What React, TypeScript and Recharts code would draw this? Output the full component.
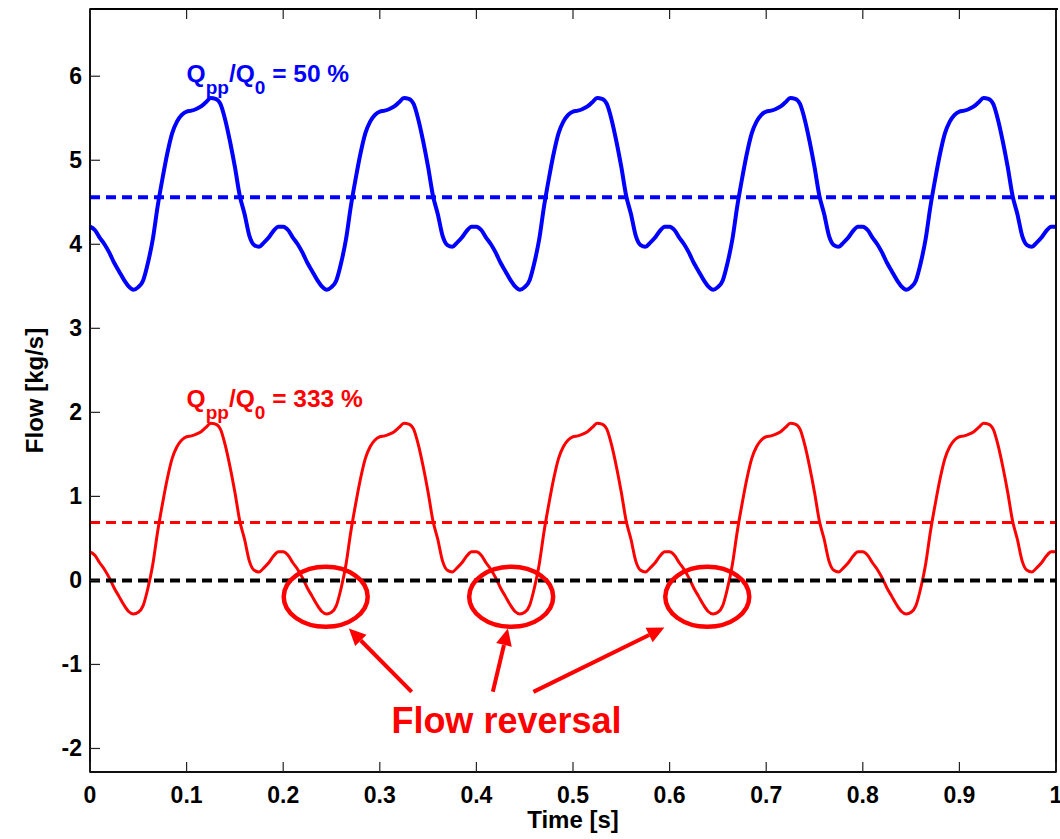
import { LineChart, Line, XAxis, YAxis, ReferenceLine, ReferenceDot, ReferenceArea } from "recharts"

const FONT = "'Liberation Sans', Arial, Helvetica, sans-serif"
const BLUE = "#0000ff"
const RED = "#ff0000"

// sample spacing of the measured flow traces [s]
const timeStep = 0.005

// Q_pp/Q_0 = 50 %  (two lines per 0.2 s pump period)
const blueFlow = [
    4.21, 4.17, 4.08, 4.00, 3.90, 3.78, 3.68, 3.58, 3.50, 3.46, 3.49, 3.57, 3.78, 4.06, 4.45, 4.78, 5.08, 5.32, 5.46, 5.54,
    5.58, 5.59, 5.61, 5.64, 5.69, 5.74, 5.73, 5.67, 5.48, 5.22, 4.92, 4.58, 4.36, 4.10, 3.99, 3.97, 4.02, 4.08, 4.16, 4.21,
    4.21, 4.17, 4.08, 4.00, 3.90, 3.78, 3.68, 3.58, 3.50, 3.46, 3.49, 3.57, 3.78, 4.06, 4.45, 4.78, 5.08, 5.32, 5.46, 5.54,
    5.58, 5.59, 5.61, 5.64, 5.69, 5.74, 5.73, 5.67, 5.48, 5.22, 4.92, 4.58, 4.36, 4.10, 3.99, 3.97, 4.02, 4.08, 4.16, 4.21,
    4.21, 4.17, 4.08, 4.00, 3.90, 3.78, 3.68, 3.58, 3.50, 3.46, 3.49, 3.57, 3.78, 4.06, 4.45, 4.78, 5.08, 5.32, 5.46, 5.54,
    5.58, 5.59, 5.61, 5.64, 5.69, 5.74, 5.73, 5.67, 5.48, 5.22, 4.92, 4.58, 4.36, 4.10, 3.99, 3.97, 4.02, 4.08, 4.16, 4.21,
    4.21, 4.17, 4.08, 4.00, 3.90, 3.78, 3.68, 3.58, 3.50, 3.46, 3.49, 3.57, 3.78, 4.06, 4.45, 4.78, 5.08, 5.32, 5.46, 5.54,
    5.58, 5.59, 5.61, 5.64, 5.69, 5.74, 5.73, 5.67, 5.48, 5.22, 4.92, 4.58, 4.36, 4.10, 3.99, 3.97, 4.02, 4.08, 4.16, 4.21,
    4.21, 4.17, 4.08, 4.00, 3.90, 3.78, 3.68, 3.58, 3.50, 3.46, 3.49, 3.57, 3.78, 4.06, 4.45, 4.78, 5.08, 5.32, 5.46, 5.54,
    5.58, 5.59, 5.61, 5.64, 5.69, 5.74, 5.73, 5.67, 5.48, 5.22, 4.92, 4.58, 4.36, 4.10, 3.99, 3.97, 4.02, 4.08, 4.16, 4.21,
    4.21,
]

// Q_pp/Q_0 = 333 %
const redFlow = [
    0.34, 0.30, 0.21, 0.13, 0.03, -0.09, -0.19, -0.29, -0.37, -0.40, -0.38, -0.30, -0.09, 0.19, 0.58, 0.91, 1.21, 1.45, 1.59, 1.67,
    1.71, 1.72, 1.74, 1.77, 1.82, 1.87, 1.86, 1.80, 1.61, 1.35, 1.05, 0.71, 0.49, 0.23, 0.12, 0.10, 0.15, 0.21, 0.29, 0.34,
    0.34, 0.30, 0.21, 0.13, 0.03, -0.09, -0.19, -0.29, -0.37, -0.40, -0.38, -0.30, -0.09, 0.19, 0.58, 0.91, 1.21, 1.45, 1.59, 1.67,
    1.71, 1.72, 1.74, 1.77, 1.82, 1.87, 1.86, 1.80, 1.61, 1.35, 1.05, 0.71, 0.49, 0.23, 0.12, 0.10, 0.15, 0.21, 0.29, 0.34,
    0.34, 0.30, 0.21, 0.13, 0.03, -0.09, -0.19, -0.29, -0.37, -0.40, -0.38, -0.30, -0.09, 0.19, 0.58, 0.91, 1.21, 1.45, 1.59, 1.67,
    1.71, 1.72, 1.74, 1.77, 1.82, 1.87, 1.86, 1.80, 1.61, 1.35, 1.05, 0.71, 0.49, 0.23, 0.12, 0.10, 0.15, 0.21, 0.29, 0.34,
    0.34, 0.30, 0.21, 0.13, 0.03, -0.09, -0.19, -0.29, -0.37, -0.40, -0.38, -0.30, -0.09, 0.19, 0.58, 0.91, 1.21, 1.45, 1.59, 1.67,
    1.71, 1.72, 1.74, 1.77, 1.82, 1.87, 1.86, 1.80, 1.61, 1.35, 1.05, 0.71, 0.49, 0.23, 0.12, 0.10, 0.15, 0.21, 0.29, 0.34,
    0.34, 0.30, 0.21, 0.13, 0.03, -0.09, -0.19, -0.29, -0.37, -0.40, -0.38, -0.30, -0.09, 0.19, 0.58, 0.91, 1.21, 1.45, 1.59, 1.67,
    1.71, 1.72, 1.74, 1.77, 1.82, 1.87, 1.86, 1.80, 1.61, 1.35, 1.05, 0.71, 0.49, 0.23, 0.12, 0.10, 0.15, 0.21, 0.29, 0.34,
    0.34,
]

const blueMean = 4.56
const redMean = 0.69

const xDomain = [0, 1]
const yDomain = [-2.28, 6.8]
const xTicks = [0, 0.1, 0.2, 0.3, 0.4, 0.5, 0.6, 0.7, 0.8, 0.9, 1]
const yTicks = [-2, -1, 0, 1, 2, 3, 4, 5, 6]

// annotation anchors, in data units
const reversalCircles = [
    { t: 0.244, v: -0.195 },
    { t: 0.436, v: -0.195 },
    { t: 0.639, v: -0.195 },
]
const reversalArrows = [
    { from: { t: 0.333, v: -1.326 }, to: { t: 0.268, v: -0.571 } },
    { from: { t: 0.417, v: -1.326 }, to: { t: 0.4326, v: -0.571 } },
    { from: { t: 0.459, v: -1.326 }, to: { t: 0.5946, v: -0.56 } },
]

const data = blueFlow.map((b, i) => ({
    t: Math.round(i * timeStep * 1000) / 1000,
    blue: b,
    red: redFlow[i],
}))

const BottomTick = (props: any) => {
    const { x, y, payload } = props
    return (
        <g>
            <line x1={x} y1={y} x2={x} y2={y - 10} stroke="#222" strokeWidth={1.2} />
            <text x={x} y={y + 31} textAnchor="middle" fontSize={23} fontWeight="bold" fontFamily={FONT} fill="#000">
                {payload.value}
            </text>
        </g>
    )
}

const LeftTick = (props: any) => {
    const { x, y, payload } = props
    return (
        <g>
            <line x1={x} y1={y} x2={x + 10} y2={y} stroke="#222" strokeWidth={1.2} />
            <text x={x - 8} y={y + 8} textAnchor="end" fontSize={23} fontWeight="bold" fontFamily={FONT} fill="#000">
                {payload.value}
            </text>
        </g>
    )
}

const RightTick = (props: any) => {
    const { x, y } = props
    return <line x1={x} y1={y} x2={x - 10} y2={y} stroke="#222" strokeWidth={1.2} />
}

const RatioLabel = ({ cx, cy, color, value }: any) => (
    <text x={cx} y={cy} fontSize={24.5} fontWeight="bold" fontFamily={FONT} fill={color}>
        <tspan>Q</tspan>
        <tspan dy={12} fontSize={19}>pp</tspan>
        <tspan dy={-12}>/Q</tspan>
        <tspan dy={12} fontSize={19}>0</tspan>
        <tspan dy={-12}>{` = ${value} %`}</tspan>
    </text>
)

const Arrow = (props: any) => {
    const { x1, y1, x2, y2 } = props
    const dx = x2 - x1
    const dy = y2 - y1
    const len = Math.sqrt(dx * dx + dy * dy)
    const ux = dx / len
    const uy = dy / len
    const head = 17
    const half = 8
    const bx = x2 - ux * head
    const by = y2 - uy * head
    return (
        <g>
            <line x1={x1} y1={y1} x2={bx} y2={by} stroke={RED} strokeWidth={4} />
            <polygon
                points={`${x2},${y2} ${bx - uy * half},${by + ux * half} ${bx + uy * half},${by - ux * half}`}
                fill={RED}
            />
        </g>
    )
}

export default function App() {
    return (
        <div style={{ position: "absolute", left: 0, top: 0, width: 1060, height: 839, background: "#fff" }}>
            <LineChart width={1060} height={839} data={data} margin={{ top: 9, right: 3, bottom: 0, left: 0 }}>
                <XAxis
                    xAxisId="b"
                    type="number"
                    dataKey="t"
                    domain={xDomain}
                    ticks={xTicks}
                    interval={0}
                    height={67}
                    tickSize={0}
                    tickMargin={0}
                    tickLine={false}
                    tick={BottomTick}
                    axisLine={{ stroke: "#000", strokeWidth: 1.5 }}
                    label={(p: any) => (
                        <text
                            x={p.viewBox.x + p.viewBox.width / 2}
                            y={p.viewBox.y + 56}
                            textAnchor="middle"
                            fontSize={24}
                            fontWeight="bold"
                            fontFamily={FONT}
                            fill="#000"
                        >
                            Time [s]
                        </text>
                    )}
                />
                <YAxis
                    yAxisId="l"
                    type="number"
                    domain={yDomain}
                    ticks={yTicks}
                    interval={0}
                    width={90}
                    tickSize={0}
                    tickMargin={0}
                    tickLine={false}
                    tick={LeftTick}
                    axisLine={{ stroke: "#000", strokeWidth: 1.5 }}
                    label={(p: any) => {
                        const lx = 43
                        const ly = p.viewBox.y + p.viewBox.height / 2
                        return (
                            <text
                                x={lx}
                                y={ly}
                                transform={`rotate(-90, ${lx}, ${ly})`}
                                textAnchor="middle"
                                fontSize={24}
                                fontWeight="bold"
                                fontFamily={FONT}
                                fill="#000"
                            >
                                Flow [kg/s]
                            </text>
                        )
                    }}
                />
                <YAxis
                    yAxisId="r"
                    orientation="right"
                    type="number"
                    domain={yDomain}
                    ticks={yTicks}
                    interval={0}
                    width={1}
                    tickSize={0}
                    tickMargin={0}
                    tickLine={false}
                    tick={RightTick}
                    axisLine={{ stroke: "#000", strokeWidth: 1.5 }}
                />

                {/* box outline (gives the top edge) */}
                <ReferenceArea
                    xAxisId="b"
                    yAxisId="l"
                    x1={xDomain[0]}
                    x2={xDomain[1]}
                    y1={yDomain[0]}
                    y2={yDomain[1]}
                    ifOverflow="visible"
                    fill="#fff"
                    fillOpacity={0}
                    stroke="#000"
                    strokeWidth={1.5}
                />
                {/* mirrored inward ticks along the top edge */}
                {xTicks.map((tk) => (
                    <ReferenceDot
                        key={`top-${tk}`}
                        xAxisId="b"
                        yAxisId="l"
                        x={tk}
                        y={yDomain[1] - 0.06}
                        r={1}
                        ifOverflow="visible"
                        shape={(p: any) => (
                            <line x1={p.cx} y1={p.cy - 5} x2={p.cx} y2={p.cy + 5} stroke="#222" strokeWidth={1.2} />
                        )}
                    />
                ))}

                <ReferenceLine xAxisId="b" yAxisId="l" y={blueMean} stroke={BLUE} strokeWidth={4} strokeDasharray="10 6" />
                <ReferenceLine xAxisId="b" yAxisId="l" y={redMean} stroke={RED} strokeWidth={3} strokeDasharray="10 6" />

                <Line
                    xAxisId="b"
                    yAxisId="l"
                    dataKey="blue"
                    type="monotone"
                    stroke={BLUE}
                    strokeWidth={4}
                    dot={false}
                    activeDot={false}
                    isAnimationActive={false}
                />
                <Line
                    xAxisId="b"
                    yAxisId="l"
                    dataKey="red"
                    type="monotone"
                    stroke={RED}
                    strokeWidth={3}
                    dot={false}
                    activeDot={false}
                    isAnimationActive={false}
                />

                <ReferenceLine xAxisId="b" yAxisId="l" y={0} stroke="#000" strokeWidth={4} strokeDasharray="10 6" />

                {reversalCircles.map((c, i) => (
                    <ReferenceDot
                        key={`circle-${i}`}
                        xAxisId="b"
                        yAxisId="l"
                        x={c.t}
                        y={c.v}
                        r={1}
                        shape={(p: any) => (
                            <ellipse cx={p.cx} cy={p.cy} rx={42} ry={30} fill="none" stroke={RED} strokeWidth={4.5} />
                        )}
                    />
                ))}
                {reversalArrows.map((a, i) => (
                    <ReferenceLine
                        key={`arrow-${i}`}
                        xAxisId="b"
                        yAxisId="l"
                        segment={[
                            { x: a.from.t, y: a.from.v },
                            { x: a.to.t, y: a.to.v },
                        ]}
                        shape={Arrow}
                    />
                ))}

                <ReferenceDot
                    xAxisId="b"
                    yAxisId="l"
                    x={0.1}
                    y={5.936}
                    r={1}
                    shape={(p: any) => <RatioLabel cx={p.cx} cy={p.cy} color={BLUE} value="50" />}
                />
                <ReferenceDot
                    xAxisId="b"
                    yAxisId="l"
                    x={0.1}
                    y={2.067}
                    r={1}
                    shape={(p: any) => <RatioLabel cx={p.cx} cy={p.cy} color={RED} value="333" />}
                />
                <ReferenceDot
                    xAxisId="b"
                    yAxisId="l"
                    x={0.312}
                    y={-1.814}
                    r={1}
                    shape={(p: any) => (
                        <text x={p.cx} y={p.cy} fontSize={36} fontWeight="bold" fontFamily={FONT} fill={RED}>
                            Flow reversal
                        </text>
                    )}
                />
            </LineChart>
            {/* top border of the axes box, drawn as a plain frame edge */}
            <div
                style={{
                    position: "absolute",
                    left: 90,
                    top: 8,
                    width: 968,
                    height: 0,
                    borderTop: "2px solid #000",
                    pointerEvents: "none",
                }}
            />
        </div>
    )
}
